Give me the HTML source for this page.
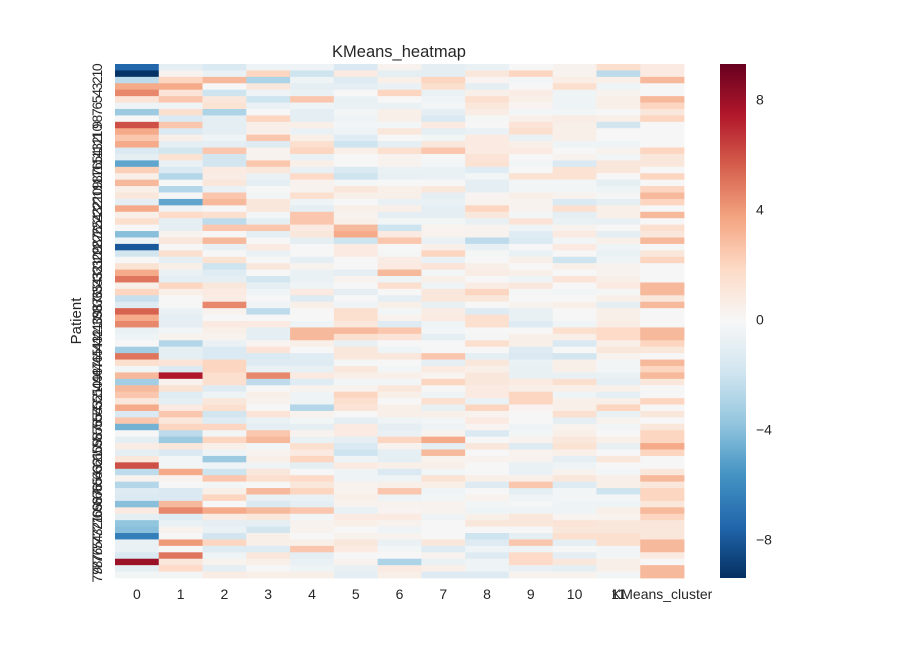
<!DOCTYPE html>
<html><head><meta charset="utf-8"><style>
body{margin:0;background:#fff;font-family:"Liberation Sans",sans-serif}
svg text{font-family:"Liberation Sans",sans-serif;fill:#262626}
</style></head><body>
<svg id="chart" width="918" height="642" xmlns="http://www.w3.org/2000/svg">
<defs><linearGradient id="cbgrad" x1="0" y1="1" x2="0" y2="0"></linearGradient></defs>
<text x="399" y="57" font-size="16.5" text-anchor="middle">KMeans_heatmap</text>
<text x="0" y="0" font-size="15" text-anchor="middle" transform="translate(81,321) rotate(-90)">Patient</text>
<g id="cells"></g>
<g id="ylabels"></g>
<g id="xlabels"></g>
<rect x="720" y="64" width="26" height="514" fill="url(#cbgrad)"/>
<g id="cbticks"></g>
</svg>
<script>
const columns = ["0","1","2","3","4","5","6","7","8","9","10","11","KMeans_cluster"];
const cbTicks = [8,4,0,-4,-8];
const cbTickLabels = ["8","4","0","\u22124","\u22128"];
const vmin = -9.4, vmax = 9.3;
const values = [
[-7.5,-1,-1.5,-0.5,-0.5,-1.5,0.3,-1,-0.7,0,0.3,1.5,0.8],
[-9.3,0.3,-0.7,2,-2,0.8,-1,-1,1,2,0.3,-2.5,0.8],
[-2.5,2,3,-3,-0.5,-1.3,0.5,2,0.2,-0.3,0.6,0.5,3],
[3.5,3.5,0,1,-1,-1,-0.7,1.5,-1,0,1.5,-0.5,0],
[4.5,1.2,-2,-0.5,-0.7,0,2,-0.7,0.5,0.7,-0.5,0.3,0],
[1.2,2.5,1,-2,2.5,-0.7,0,-0.5,1.5,0.5,-0.5,0.5,3],
[-0.5,-0.5,1.3,-0.7,-0.5,-0.7,-0.7,-0.3,1,0.2,-0.5,0.5,2],
[-3.5,1.5,-3,0,-1,-0.3,0.5,-1,0.7,-0.3,-0.3,0,1],
[0,-1.5,-1,2,-1,-0.5,0.5,-1.5,-0.2,0.5,0.7,0.5,2],
[6,2.5,-1,0.5,0.5,-0.3,-0.3,0.8,0,1.2,0.5,-1.8,0],
[3.5,-1.5,-1,0.5,-0.7,-0.5,1,-1,-0.7,1.5,0.5,0,0],
[2.5,0.5,-0.5,2.5,0.5,-1.2,0,-0.3,0.8,-0.7,0.5,0,0],
[3.5,-1,-1,-1.3,1.5,-2,-1,1,0.8,0.5,-0.5,-0.5,0],
[-1.5,-1.8,2.5,0.3,2,0.5,1.5,2.5,0.8,0.8,0,0.3,2],
[-1,1.3,-1.8,0.3,-0.7,0,0.3,0,1.2,0,0.3,-0.3,1],
[-5,-0.7,-1.8,2.5,0.5,0,0.3,-0.3,1.3,-0.3,-1.5,1,1],
[2.2,-1.5,0.8,1,-0.8,-1.5,-0.7,-0.7,-1.2,0,1.3,1,0],
[0.5,-2.8,0.7,-0.7,1.8,-2,-0.8,-0.7,-0.3,1.3,1.3,0,2],
[3,0,1,-1,0.3,-0.2,0,0,-1,-0.3,-0.3,-1,0],
[0.5,-2.8,-0.7,0,0.3,1,0.5,1,-1,-0.3,-0.3,-0.5,2],
[1,0,2.5,-0.3,1.5,0.5,0.5,-1,0.2,0.5,0.3,-0.2,3],
[-1,-5,3,1,-0.5,0,-0.7,-0.7,0.3,0.3,-1.5,-1,2],
[3.5,-0.5,0,1,-1,0.5,0.5,-1,2,0.3,1.5,0.5,0],
[0.5,1.8,1.5,-0.3,2.5,0.3,-1,-1,1,-0.3,-1,0.5,3],
[1.5,-1,-2.5,-1,2.5,0.5,-0.3,-0.3,-0.8,1.2,-0.7,-0.8,0],
[0,-1,2.5,2.5,0.8,3,-2,0.3,0.3,-0.5,0.3,0,1.5],
[-4,0.3,0,-1,1,3.5,0.8,0.3,0.3,-1.2,0.8,-1,1],
[-0.5,1,3,0,-1,-2,2.5,-0.7,-2.5,-1.5,-0.3,0.5,3],
[-8,0,-0.8,0.8,0,0.8,0,0.5,-0.8,0,0.8,-0.5,0],
[-1.8,1.5,0,-0.7,0,0.8,-0.2,2,-0.2,-0.7,0,-0.7,1],
[0,-1,1.3,0,-1,0,0.7,-0.7,0,0.5,-2,-0.5,2],
[1.3,0.5,-2,1,0.3,0,0.8,1.2,0.5,0,0.5,0.3,0],
[3.5,-0.7,-1.2,0,-0.7,-1,3,-0.3,0.7,0.5,0,0.3,0],
[5,-1,-1,-1.8,-0.7,0.3,-0.5,0.5,0,-0.5,1.2,0.5,0],
[0.5,2,1,-1,-0.5,0,1.5,-0.5,0.7,1,0,0.8,3],
[2,0.5,0.8,-0.5,0.8,-1,0,1,2,-0.2,-0.3,-0.2,3],
[-2.2,0,0.7,0,-1.3,0,-1,1,1,0,0,0.5,1],
[-1.3,0,4.5,-0.5,0.5,-0.5,0.5,-0.8,0,0.3,0.5,-1,3],
[5.5,-0.7,0.3,-2.5,0,1.5,-0.3,0.7,-1.3,-0.8,0,0.5,0],
[3.5,-1,0,0,0,1.5,0.3,0.8,1.5,-0.8,0,0.5,0],
[4.5,-1,0.8,0.8,-0.5,1,-1.3,-0.5,1.5,-1.3,-0.5,0.7,0],
[-0.7,-0.3,0.5,-1,3,3,2.5,-0.3,0,0,1.5,1.8,3],
[-0.5,0.3,0.3,-1,3,1.5,1.2,-1,-0.2,0.5,0.5,1.8,3],
[0,-2.8,-0.7,0.2,0.5,-0.8,0,0,1.5,0.5,-1.5,0.5,2],
[-3.3,-1,-1.5,1.2,0,1,-0.5,0,0,-1.3,0,1,1],
[5,-1,-1.5,-1.5,-1.2,1,1,2.5,-1,-1.5,-1.8,0.3,0],
[1.5,1.2,2,-1.3,-1.3,-0.2,0,-1,1,-0.7,0.5,-0.3,3],
[-0.3,-1.5,2,-0.7,-0.8,1,-0.3,0.8,0.5,-0.8,0.5,-0.3,2],
[3,7.5,1.5,4.5,0.8,0.5,0.5,0.2,1,-0.8,-0.8,-0.7,3],
[-3.3,0.3,1.5,-2.5,-1.2,-0.3,-0.3,2,1,0.8,1.5,-1,1],
[3,1.3,-1.3,0,0.3,0.3,1,0,0.8,0.5,0.5,0.5,0],
[2.5,-1.2,-0.5,0.5,-0.5,2,0.5,-0.5,0.8,2,-0.5,-1,0],
[1,-1,1,0.3,-0.5,1.5,0,1.5,-0.7,2,0.5,0.5,2],
[3.5,0.8,1.5,0,-2.8,1.2,0.5,-0.8,2,0.2,0.5,2,0],
[-1.5,2.5,-1.8,1.2,0.3,0,0.5,0.5,0.3,0,1.5,-0.7,1],
[2.5,1,-1.3,-0.7,-0.3,-1,-0.5,-0.3,0.8,0,-1,0.3,0],
[-4.5,2,2,-1,-1,0.8,-1,-0.5,0.2,-0.5,0.3,-0.3,1],
[0,-2.5,-0.3,2.5,0.3,0.8,-0.7,0.3,-1.5,-0.3,0.5,0,2],
[-1,-3.5,2,3,-0.7,-1,2,3.5,0,0.3,1,0.5,2],
[0.7,1,0.5,-0.3,1.5,-1.5,0.3,-1,1,-1.3,1.3,-0.8,3.5],
[-1,-1.5,-0.5,0.3,0.8,-2,-1,3,0,0.3,0.5,0,2],
[1,-0.3,-3.5,0.5,2,-0.5,-1,0.3,0.3,0.3,-1,1,0],
[6,-0.3,-0.5,-0.5,-1,0.8,0.5,0.5,0,-0.7,-0.5,0,0],
[-2.5,3.5,-2,1,0,-0.5,-1.5,-0.3,0,-0.7,0.3,-0.3,1],
[0.3,0.3,2.5,1.5,1.8,-0.5,-0.5,1.3,0.5,0.5,1,0.5,3],
[-2.8,0,-0.3,0,1,0.3,0.5,0.5,-1.3,2.5,-1.3,0.5,1],
[-1.3,-1.5,0.5,3,2,0.3,2.5,-0.5,0,-1,-0.3,-2,2],
[-1.5,-1.5,2,-0.7,-0.7,0.5,-0.5,-0.3,0.3,-0.5,-0.3,-0.3,2],
[-4,3,0,-1.5,-1,0.3,0.3,0.3,-0.3,-0.2,-0.5,-0.5,1],
[0.8,4.5,3.5,3,2.5,-0.7,0.2,0.3,-0.5,-0.5,-0.5,0.5,3],
[-1,-1.2,0.7,1,-0.3,0.8,0.8,-0.5,0.5,1,0.2,0.3,2],
[-3.8,-0.7,-1,-1,0.3,0.5,0.3,0,1,1,1.2,1,1],
[-4,0.3,-0.7,-1.8,0.3,0,-0.5,0,0,0,1,1,1],
[-6.5,0,-1.8,0.5,0,0.3,0.3,0,-2,-1,1.5,1.5,1],
[-0.7,4,2,0.5,0.5,1,-0.7,1,-1.3,2.5,-1,1.5,3],
[-0.7,0,-1.3,-1.3,2.5,0.8,-0.3,-1.3,-0.5,-0.5,0,-0.3,3],
[-1.5,5,-0.5,1,-1,0,0,0.3,-1.3,1.8,-1,-0.3,0.8],
[8,1,0.3,0.5,-0.7,0.3,-3,-0.7,-0.5,1.8,1,0.5,0],
[-1,1.8,-1,0,-0.5,-0.8,0.8,0.5,-0.5,-0.8,-1,0.5,3],
[-0.3,-0.3,0.7,0.5,0.5,-1,0.5,-1.3,-1.3,0.3,0.3,-0.3,3]
];
const rowLabels = values.map((r,i)=>String(i));

const stops = ["#053061","#2166ac","#4393c3","#92c5de","#d1e5f0","#f7f7f7","#fddbc7","#f4a582","#d6604d","#b2182b","#67001f"];
function hex(h){return [1,3,5].map(i=>parseInt(h.substr(i,2),16));}
const stopRGB = stops.map(hex);
function color(v){
  let t=(v-vmin)/(vmax-vmin); t=Math.max(0,Math.min(1,t));
  const p=t*(stops.length-1), i=Math.min(stops.length-2,Math.floor(p)), f=p-i;
  const a=stopRGB[i], b=stopRGB[i+1];
  return "rgb("+a.map((c,k)=>Math.round(c+(b[k]-c)*f)).join(",")+")";
}
const NS="http://www.w3.org/2000/svg";
const X0=115, X1=684, Y0=64, Y1=578;
const cw=(X1-X0)/columns.length, rh=(Y1-Y0)/values.length;
function xScale(i){return X0+i*cw;}
function yScale(i){return Y0+i*rh;}
function cbY(v){return Y0+(vmax-v)/(vmax-vmin)*(Y1-Y0);}

const cells=document.getElementById("cells");
values.forEach((row,r)=>row.forEach((v,c)=>{
  const el=document.createElementNS(NS,"rect");
  el.setAttribute("x",xScale(c)); el.setAttribute("y",yScale(r));
  el.setAttribute("width",cw+0.4); el.setAttribute("height",rh+0.4);
  el.setAttribute("fill",color(v));
  
  
  cells.appendChild(el);
}));
const yl=document.getElementById("ylabels");
rowLabels.forEach((lab,r)=>{
  const t=document.createElementNS(NS,"text");
  const cy=yScale(r)+rh/2;
  t.setAttribute("transform","translate(102,"+cy+") rotate(-90)");
  t.setAttribute("text-anchor","middle"); t.setAttribute("font-size","14");
  t.textContent=lab;
  
  
  yl.appendChild(t);
});
const xl=document.getElementById("xlabels");
columns.forEach((lab,c)=>{
  const t=document.createElementNS(NS,"text");
  const cx=xScale(c)+cw/2;
  t.setAttribute("x", cx); t.setAttribute("y",599);
  t.setAttribute("text-anchor","middle"); t.setAttribute("font-size","14");
  t.textContent=lab;
  
  
  xl.appendChild(t);
});
const g=document.getElementById("cbgrad");
stops.forEach((s,i)=>{
  const st=document.createElementNS(NS,"stop");
  st.setAttribute("offset",(i/(stops.length-1)*100)+"%");
  st.setAttribute("stop-color",s);
  g.appendChild(st);
});
const cbt=document.getElementById("cbticks");
cbTicks.forEach((v,i)=>{
  const t=document.createElementNS(NS,"text");
  t.setAttribute("x",756); t.setAttribute("y",cbY(v)+5);
  t.setAttribute("font-size","14");
  t.textContent=cbTickLabels[i];
  
  
  cbt.appendChild(t);
});
</script>
</body></html>
